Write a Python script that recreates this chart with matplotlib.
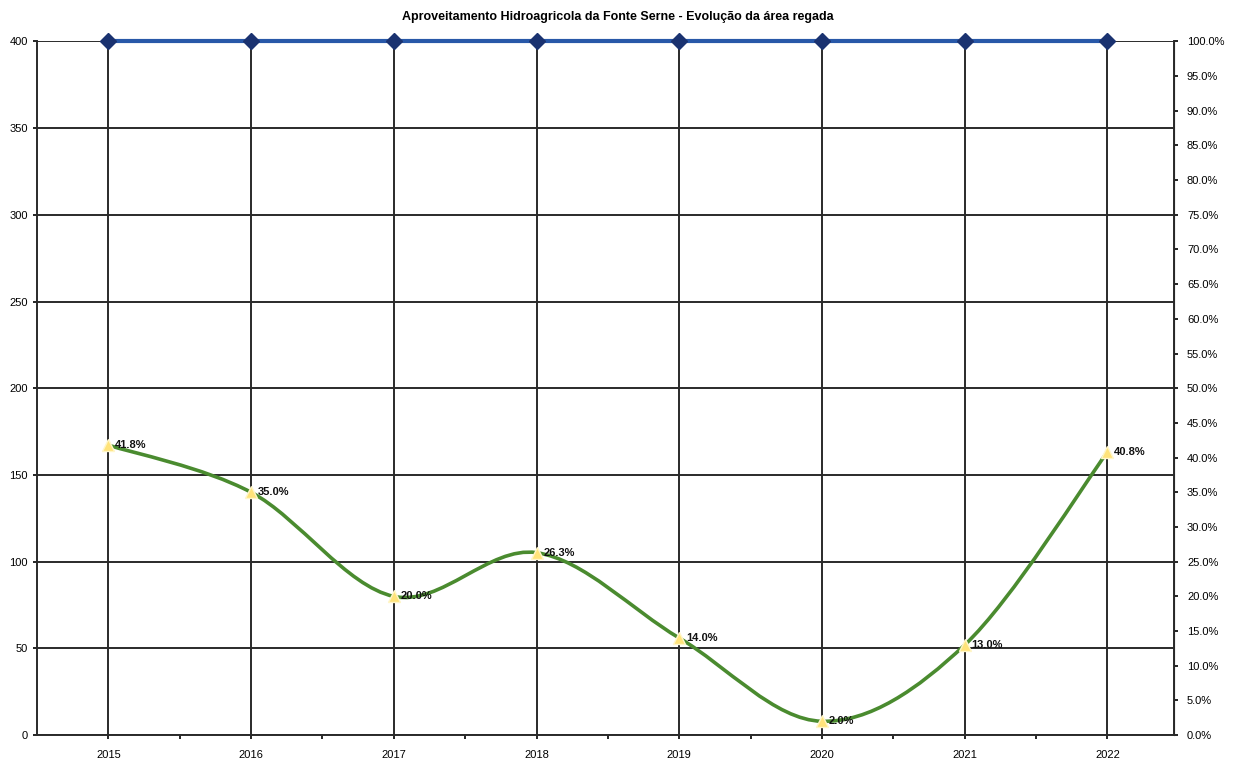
"""Aproveitamento Hidroagricola da Fonte Serne - evolucao da area regada."""
import matplotlib
matplotlib.use("Agg")
import matplotlib.pyplot as plt
from matplotlib.path import Path
from matplotlib.patches import PathPatch
from matplotlib.ticker import MultipleLocator, PercentFormatter

plt.rcParams["font.family"] = ["Liberation Sans Narrow", "Liberation Sans", "DejaVu Sans"]

# ----- dados -----
anos = ["2015", "2016", "2017", "2018", "2019", "2020", "2021", "2022"]
area_beneficiada = [100.0, 100.0, 100.0, 100.0, 100.0, 100.0, 100.0, 100.0]   # %
taxa_rega = [41.8, 35.0, 20.0, 26.3, 14.0, 2.0, 13.0, 40.8]                     # %
area_max = 400
pct_max = 100

AZUL = "#2858a8"
AZUL_ESC = "#1a3270"
VERDE = "#4a8b2f"
AMARELO = "#ffe37a"


def smooth_path(xs, ys):
    """Curva suave tipo Excel (Catmull-Rom em Bezier cubica)."""
    pts = list(zip(xs, ys))
    verts, codes = [pts[0]], [Path.MOVETO]
    n = len(pts)
    for i in range(n - 1):
        p0 = pts[i - 1] if i > 0 else pts[i]
        p1, p2 = pts[i], pts[i + 1]
        p3 = pts[i + 2] if i + 2 < n else pts[i + 1]
        c1 = (p1[0] + (p2[0] - p0[0]) / 6, p1[1] + (p2[1] - p0[1]) / 6)
        c2 = (p2[0] - (p3[0] - p1[0]) / 6, p2[1] - (p3[1] - p1[1]) / 6)
        verts += [c1, c2, p2]
        codes += [Path.CURVE4] * 3
    return Path(verts, codes)


fig = plt.figure(figsize=(12.35, 7.65), dpi=100)
ax = fig.add_axes([0.030, 0.039, 0.921, 0.907])
ax2 = ax.twinx()

x = list(range(len(anos)))
ax.set_xlim(-0.5, len(anos) - 0.53)
ax.set_ylim(0, area_max)
ax2.set_ylim(0, pct_max)

# eixo esquerdo (area) e grelha
ax.yaxis.set_major_locator(MultipleLocator(50))
ax.set_xticks(x)
ax.set_xticklabels(anos)
ax.set_xticks([i + 0.5 for i in x[:-1]], minor=True)
ax.grid(True, which="major", color="#2a2a2a", linewidth=1.4)
ax.set_axisbelow(True)
ax.get_ygridlines()[-1].set_color("#bbbbbb")
ax.tick_params(axis="both", which="major", labelsize=8, length=3, width=1.2)
ax.tick_params(axis="x", which="minor", length=3, width=1.2)
ax.tick_params(axis="x", pad=8)
ax.spines["top"].set_visible(False)
for s in ("left", "bottom"):
    ax.spines[s].set_color("#2a2a2a")
    ax.spines[s].set_linewidth(1.4)

# eixo direito (percentagem)
ax2.yaxis.set_major_locator(MultipleLocator(5))
ax2.yaxis.set_major_formatter(PercentFormatter(decimals=1))
ax2.tick_params(axis="y", labelsize=8, length=3, width=1.2, pad=6)
ax2.spines["top"].set_visible(False)
ax2.spines["right"].set_color("#2a2a2a")
ax2.spines["right"].set_linewidth(1.4)
for s in ("left", "bottom"):
    ax2.spines[s].set_visible(False)

# serie azul: area beneficiada (100%)
ax2.plot(x, area_beneficiada, color=AZUL, linewidth=3, marker="D",
         markersize=8, markerfacecolor=AZUL_ESC, markeredgecolor=AZUL_ESC,
         clip_on=False, zorder=5)

# serie verde: taxa de rega (linha suavizada)
ax2.add_patch(PathPatch(smooth_path(x, taxa_rega), facecolor="none",
                        edgecolor=VERDE, linewidth=2.6, zorder=4))
ax2.plot(x, taxa_rega, linestyle="none", marker="^", markersize=9,
         markerfacecolor=AMARELO, markeredgecolor="#fff6c8", zorder=6)
for xi, v in zip(x, taxa_rega):
    ax2.annotate(f"{v:.1f}%", (xi, v), xytext=(5, 0), textcoords="offset points",
                 ha="left", va="center", fontsize=8, fontweight="bold",
                 color="#111111", zorder=7)

fig.suptitle("Aproveitamento Hidroagricola da Fonte Serne - Evolução da área regada",
             y=0.985, fontsize=9, fontweight="bold")

fig.savefig("out.png", dpi=100)
